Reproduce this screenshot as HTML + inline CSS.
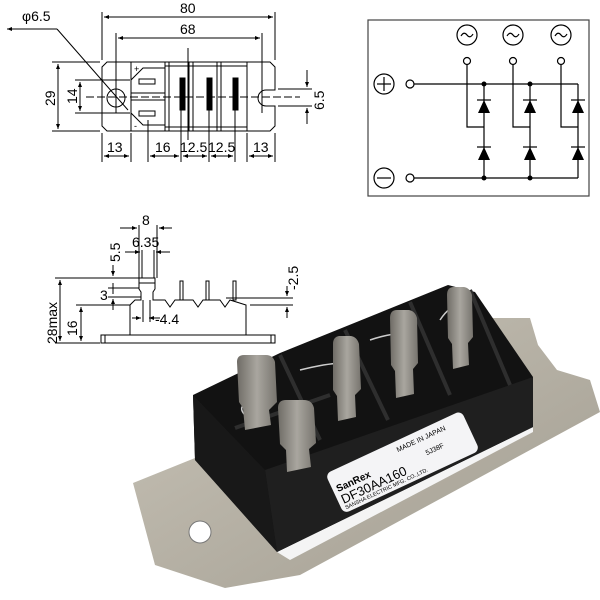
<!DOCTYPE html>
<html><head><style>
html,body{margin:0;padding:0;background:#fff;}
svg{display:block;}
text{font-family:"Liberation Sans",sans-serif;fill:#000;}
</style></head><body>
<svg width="600" height="600" viewBox="0 0 600 600" xmlns="http://www.w3.org/2000/svg">
<defs>
<marker id="a" markerWidth="6" markerHeight="6" refX="5" refY="3" orient="auto-start-reverse"><path d="M0,1 L5,3 L0,5 Z" fill="#000"/></marker>
<linearGradient id="plate" x1="0" y1="0" x2="1" y2="1"><stop offset="0" stop-color="#c9c4b8"/><stop offset="1" stop-color="#a19c90"/></linearGradient>
<linearGradient id="tab" x1="0" y1="0" x2="1" y2="0"><stop offset="0" stop-color="#6f6c66"/><stop offset="0.5" stop-color="#a9a69f"/><stop offset="1" stop-color="#77746e"/></linearGradient>
</defs>
<g stroke="#000" stroke-width="1" fill="none">
<path d="M107,62 L270,62 L275,67 L275,90 L266,90 A8,8 0 0 0 266,106 L275,106 L275,126 L270,131 L107,131 L102,126 L102,67 Z"/>
<line x1="131" y1="62" x2="131" y2="131"/>
<line x1="247" y1="62" x2="247" y2="131"/>
<path d="M131,80 L143,68 L165,68 M131,113 L143,125 L165,125"/>
<rect x="139" y="79" width="16" height="5"/><rect x="139" y="111" width="16" height="5"/>
<line x1="131" y1="93" x2="165" y2="93"/><line x1="131" y1="100" x2="165" y2="100"/>
<line x1="165" y1="62" x2="165" y2="131"/><line x1="169" y1="62" x2="169" y2="131"/>
<line x1="189" y1="62" x2="189" y2="131"/><line x1="193" y1="62" x2="193" y2="131"/>
<line x1="217" y1="62" x2="217" y2="131"/><line x1="221" y1="62" x2="221" y2="131"/>
<line x1="165" y1="66" x2="247" y2="66"/><line x1="165" y1="127" x2="247" y2="127"/>
<rect x="180" y="78" width="5" height="32" fill="#000"/><rect x="207" y="78" width="5" height="32" fill="#000"/><rect x="233" y="78" width="5" height="32" fill="#000"/>
<circle cx="116" cy="98" r="9"/>
<line x1="86" y1="97" x2="300" y2="97" stroke-dasharray="8,3"/>
<line x1="102" y1="12" x2="102" y2="60"/><line x1="275" y1="12" x2="275" y2="60"/>
<line x1="104" y1="17" x2="273" y2="17" marker-start="url(#a)" marker-end="url(#a)"/>
<line x1="116" y1="33" x2="116" y2="113"/><line x1="262" y1="33" x2="262" y2="113"/>
<line x1="118" y1="38" x2="260" y2="38" marker-start="url(#a)" marker-end="url(#a)"/>
<line x1="188" y1="48" x2="188" y2="140"/>
<polyline points="57,29 7,29" marker-end="url(#a)"/><line x1="57" y1="29" x2="128" y2="110"/>
<line x1="52" y1="62" x2="100" y2="62"/><line x1="52" y1="131" x2="100" y2="131"/>
<line x1="58" y1="64" x2="58" y2="129" marker-start="url(#a)" marker-end="url(#a)"/>
<line x1="75" y1="80" x2="130" y2="80"/><line x1="75" y1="113" x2="130" y2="113"/>
<line x1="80" y1="82" x2="80" y2="111" marker-start="url(#a)" marker-end="url(#a)"/>
<line x1="278" y1="89" x2="312" y2="89"/><line x1="278" y1="106" x2="312" y2="106"/>
<line x1="307" y1="70" x2="307" y2="87" marker-end="url(#a)"/><line x1="307" y1="124" x2="307" y2="108" marker-end="url(#a)"/>
<line x1="102" y1="133" x2="102" y2="162"/><line x1="131" y1="133" x2="131" y2="162"/>
<line x1="148" y1="120" x2="148" y2="162"/><line x1="181" y1="110" x2="181" y2="162"/>
<line x1="209" y1="110" x2="209" y2="162"/><line x1="235" y1="110" x2="235" y2="162"/>
<line x1="247" y1="133" x2="247" y2="162"/><line x1="275" y1="133" x2="275" y2="162"/>
<line x1="104" y1="156" x2="129" y2="156" marker-start="url(#a)" marker-end="url(#a)"/>
<line x1="150" y1="156" x2="179" y2="156" marker-start="url(#a)" marker-end="url(#a)"/>
<line x1="183" y1="156" x2="207" y2="156" marker-start="url(#a)" marker-end="url(#a)"/>
<line x1="211" y1="156" x2="233" y2="156" marker-start="url(#a)" marker-end="url(#a)"/>
<line x1="249" y1="156" x2="273" y2="156" marker-start="url(#a)" marker-end="url(#a)"/>
</g>
<g font-size="14">
<text x="180" y="13">80</text><text x="180" y="34">68</text>
<text x="22" y="21">φ6.5</text>
<text x="107" y="152">13</text><text x="155" y="152">16</text><text x="180" y="152">12.5</text><text x="208" y="152">12.5</text><text x="253" y="152">13</text>
<text transform="translate(55,106) rotate(-90)">29</text>
<text transform="translate(77,104) rotate(-90)">14</text>
<text transform="translate(324,110) rotate(-90)">6.5</text>
<text x="134" y="72" font-size="9">+</text><text x="134" y="129" font-size="9">-</text>
</g>
<g stroke="#000" stroke-width="1" fill="none">
<rect x="101" y="335" width="174" height="8"/>
<line x1="105" y1="335" x2="105" y2="343"/><line x1="271" y1="335" x2="271" y2="343"/>
<path d="M130,335 L130,305 L135,300 L141,300 L141,292 L139,289 L139,278 L155,278 L155,289 L153,292 L153,300 L165,300 L170,307 L175,300 L193,300 L198,307 L203,300 L220,300 L225,307 L230,300 L246,305 L246,335"/>
<rect x="180" y="281" width="3" height="19"/><rect x="206" y="281" width="3" height="19"/><rect x="233" y="281" width="3" height="19"/>
<line x1="139" y1="283" x2="155" y2="283"/>
<line x1="55" y1="278" x2="139" y2="278"/><line x1="55" y1="343" x2="100" y2="343"/>
<line x1="60" y1="280" x2="60" y2="341" marker-start="url(#a)" marker-end="url(#a)"/>
<line x1="76" y1="305" x2="130" y2="305"/>
<line x1="81" y1="307" x2="81" y2="341" marker-start="url(#a)" marker-end="url(#a)"/>
<line x1="139" y1="225" x2="139" y2="278"/><line x1="157" y1="225" x2="157" y2="278"/>
<line x1="142" y1="250" x2="142" y2="278"/><line x1="154" y1="250" x2="154" y2="278"/>
<line x1="120" y1="228" x2="137" y2="228" marker-end="url(#a)"/><line x1="172" y1="228" x2="159" y2="228" marker-end="url(#a)"/>
<line x1="125" y1="252" x2="140" y2="252" marker-end="url(#a)"/><line x1="170" y1="252" x2="156" y2="252" marker-end="url(#a)"/>
<line x1="113" y1="265" x2="113" y2="276" marker-end="url(#a)"/><line x1="113" y1="310" x2="113" y2="299" marker-end="url(#a)"/>
<line x1="108" y1="288" x2="139" y2="288"/><line x1="108" y1="297" x2="141" y2="297"/>
<line x1="113" y1="283" x2="113" y2="294"/>
<line x1="226" y1="298" x2="293" y2="298"/><line x1="250" y1="305" x2="293" y2="305"/>
<line x1="287" y1="286" x2="287" y2="296" marker-end="url(#a)"/><line x1="287" y1="318" x2="287" y2="307" marker-end="url(#a)"/>
<line x1="132" y1="318" x2="141" y2="318" marker-end="url(#a)"/><line x1="160" y1="318" x2="149" y2="318" marker-end="url(#a)"/>
<line x1="143" y1="300" x2="143" y2="322"/><line x1="150" y1="300" x2="150" y2="322"/>
</g>
<g font-size="14">
<text x="142" y="225">8</text><text x="132" y="247">6.35</text>
<text x="155" y="324">-4.4</text>
<text x="100" y="300">3</text>
<text transform="translate(120,262) rotate(-90)">5.5</text>
<text transform="translate(57,344) rotate(-90)">28max</text>
<text transform="translate(77,336) rotate(-90)">16</text>
<text transform="translate(298,290) rotate(-90)">-2.5</text>
</g>
<g stroke="#000" stroke-width="1.2" fill="none">
<rect x="368" y="20" width="221" height="176" stroke="#444"/>
<circle cx="384" cy="84" r="10"/><line x1="377" y1="84" x2="391" y2="84"/><line x1="384" y1="77" x2="384" y2="91"/>
<circle cx="384" cy="178" r="10"/><line x1="377" y1="178" x2="391" y2="178"/>
<circle cx="410" cy="84" r="4"/><circle cx="410" cy="178" r="4"/>
<line x1="414" y1="84" x2="578" y2="84"/><line x1="414" y1="178" x2="578" y2="178"/>
<line x1="484" y1="84" x2="484" y2="178"/><line x1="530" y1="84" x2="530" y2="178"/><line x1="578" y1="84" x2="578" y2="178"/>
<circle cx="467" cy="35" r="10"/><circle cx="513" cy="35" r="10"/><circle cx="561" cy="35" r="10"/>
<path d="M461,36 q3,-5 6,-1 q3,4 6,-1 M507,36 q3,-5 6,-1 q3,4 6,-1 M555,36 q3,-5 6,-1 q3,4 6,-1"/>
<circle cx="467" cy="61" r="3.5"/><circle cx="513" cy="61" r="3.5"/><circle cx="561" cy="61" r="3.5"/>
<polyline points="467,65 467,127 484,127"/><polyline points="513,65 513,127 530,127"/><polyline points="561,65 561,127 578,127"/>
<line x1="477" y1="100" x2="491" y2="100"/><line x1="523" y1="100" x2="537" y2="100"/><line x1="571" y1="100" x2="585" y2="100"/>
<line x1="477" y1="147" x2="491" y2="147"/><line x1="523" y1="147" x2="537" y2="147"/><line x1="571" y1="147" x2="585" y2="147"/>
</g>
<g fill="#000">
<path d="M484,100 L478,113 L490,113Z M530,100 L524,113 L536,113Z M578,100 L572,113 L584,113Z"/>
<path d="M484,147 L478,160 L490,160Z M530,147 L524,160 L536,160Z M578,147 L572,160 L584,160Z"/>
<circle cx="484" cy="84" r="2.5"/><circle cx="530" cy="84" r="2.5"/><circle cx="484" cy="178" r="2.5"/><circle cx="530" cy="178" r="2.5"/>
</g>
<polygon points="133,483 195,458 480,318 530,318 538,345 557,370 590,380 600,412 300,575 225,588 155,565" fill="url(#plate)"/>
<circle cx="200" cy="532" r="11" fill="#fff" stroke="#777"/>
<polygon points="195,460 277,552 290,560 533,432 533,425" fill="#f4f4f4"/>
<polygon points="193,395 280,353 448,285 475,292 533,377 533,427 277,552 195,460" fill="#121212"/>
<polygon points="265,470 533,377 533,427 277,552" fill="#1f1f1f"/>
<polygon points="193,395 265,470 277,552 195,460" fill="#181818"/>
<g stroke="#2e2e2e" stroke-width="4">
<line x1="280" y1="355" x2="320" y2="440"/><line x1="345" y1="330" x2="388" y2="420"/><line x1="410" y1="302" x2="450" y2="395"/><line x1="470" y1="290" x2="510" y2="385"/>
<line x1="235" y1="428" x2="330" y2="395"/>
</g>
<g fill="none" stroke="#ccc" stroke-width="1.5">
<path d="M255,400 q-20,5 -10,15 M300,370 q40,-10 50,-5 M370,340 q30,-10 45,-5 M440,320 q10,-15 20,-15"/>
</g>
<path d="M237,362 q0,-7 7,-7 h22 q7,0 9,7 l2,40 -8,8 2,15 -26,5 -2,-22 -4,-6 z" fill="url(#tab)"/>
<path d="M333,344 q0,-7 6,-8 h12 q6,1 8,8 l2,45 -6,6 1,22 -18,4 -1,-25 -4,-6 z" fill="url(#tab)"/>
<path d="M390,318 q0,-8 7,-8 h12 q6,1 8,8 l1,45 -5,6 1,25 -18,4 -1,-27 -4,-6 z" fill="url(#tab)"/>
<path d="M447,295 q0,-8 7,-8 h10 q6,1 8,8 l1,42 -5,6 1,22 -16,4 -1,-25 -4,-6 z" fill="url(#tab)"/>
<path d="M278,408 q0,-8 8,-8 h18 q8,0 10,8 l2,35 -7,6 2,18 -24,5 -1,-22 -6,-6 z" fill="url(#tab)"/>
<g transform="translate(343,512) rotate(-25)">
<rect x="0" y="-42" width="150" height="44" rx="6" fill="#f4f4f6"/>
<text x="75" y="-31" font-size="7">MADE IN JAPAN</text>
<text x="4" y="-20" font-size="10" font-weight="bold" fill="#333">SanRex</text>
<text x="4" y="-7" font-size="13" fill="#222">DF30AA160</text>
<text x="100" y="-16" font-size="7">5J38F</text>
<text x="4" y="-1" font-size="5.5">SANSHA ELECTRIC MFG. CO.,LTD.</text>
</g>
</svg>
</body></html>
